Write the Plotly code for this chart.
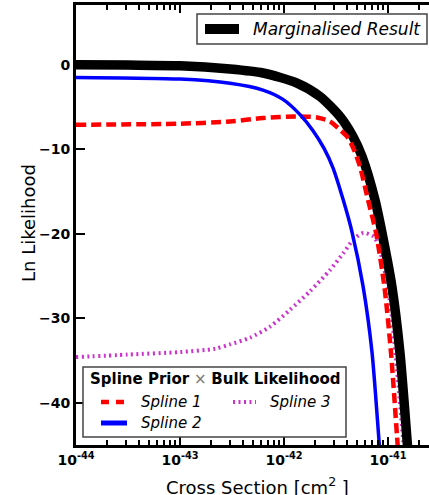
import numpy as np
import plotly.graph_objects as go

# log10 of cross section [cm^2] and ln-likelihood for each curve
marg_logx = [-44.0, -43.5, -43.0, -42.519, -42.202, -41.875, -41.654, -41.462, -41.337, -41.25,
             -41.125, -41.058, -40.962, -40.885, -40.817, -40.788]
marg_lnl = [0.0, -0.04, -0.12, -0.51, -0.98, -2.17, -3.75, -6.12, -8.49, -10.85,
            -16.0, -19.88, -26.27, -34.08, -44.38, -49.1]

s1_logx = [-44.0, -43.0, -42.519, -42.202, -41.875, -41.683, -41.558, -41.462, -41.394, -41.327,
           -41.269, -41.192, -41.115, -41.034, -40.971, -40.913, -40.885]
s1_lnl = [-7.1, -6.98, -6.71, -6.31, -6.12, -6.24, -6.71, -7.69, -8.49, -10.06,
          -12.07, -16.0, -19.9, -26.3, -34.1, -44.0, -49.1]

s2_logx = [-44.0, -43.0, -42.519, -42.202, -42.01, -41.846, -41.721, -41.615, -41.529, -41.433,
           -41.346, -41.24, -41.154, -41.087, -41.058]
s2_lnl = [-1.5, -1.7, -2.2, -3.0, -4.1, -5.9, -7.8, -9.9, -12.2, -15.9,
          -19.8, -26.2, -34.0, -44.4, -49.0]

s3_logx = [-44.0, -43.5, -43.0, -42.663, -42.519, -42.327, -42.135, -41.942, -41.75, -41.558,
           -41.43, -41.334, -41.238, -41.141, -41.093, -41.038, -40.971, -40.904, -40.846]
s3_lnl = [-34.6, -34.3, -34.0, -33.6, -33.1, -32.3, -31.0, -29.0, -26.8, -24.3,
          -22.3, -20.7, -19.9, -20.3, -21.3, -24.0, -29.0, -37.3, -45.6]

x_major = [1e-44, 1e-43, 1e-42, 1e-41]
x_major_text = ["10<sup>-44</sup>", "10<sup>-43</sup>", "10<sup>-42</sup>", "10<sup>-41</sup>"]
y_major = [-40, -30, -20, -10, 0]
y_major_text = ["\u221240", "\u221230", "\u221220", "\u221210", "0"]

W, H = 429, 495
ML, MR, MT, MB = 76, 0, 5, 50
PW, PH = W - ML - MR, H - MT - MB


def px(x):
    return (x - ML) / PW


def py(y):
    return (H - MB - y) / PH


FONT = "DejaVu Sans"
MAGENTA = "#cc33cc"

fig = go.Figure()
curves = [
    (s3_logx, s3_lnl, dict(color=MAGENTA, width=4, dash="2px,3.5px")),
    (marg_logx, marg_lnl, dict(color="black", width=9.5)),
    (s1_logx, s1_lnl, dict(color="#ff0000", width=4.5, dash="10px,5px")),
    (s2_logx, s2_lnl, dict(color="#0000ff", width=3.5)),
]
for lx, ly, style in curves:
    fig.add_trace(go.Scatter(
        x=10 ** np.array(lx), y=ly, mode="lines",
        line=dict(shape="spline", smoothing=0.7, **style),
        showlegend=False, hoverinfo="skip",
    ))

minor_vals = [m * 10.0 ** e for e in range(-45, -40) for m in range(2, 10)]

fig.update_xaxes(
    type="log", range=[-44, -44 + PW / 104.0],
    tickvals=x_major, ticktext=["<b>%s</b>" % t for t in x_major_text],
    ticks="inside", ticklen=8, tickwidth=2, tickcolor="black",
    minor=dict(tickvals=minor_vals, ticks="inside", ticklen=5, tickwidth=1.5,
               tickcolor="black", showgrid=False),
    showline=True, linewidth=3, linecolor="black", mirror="allticks",
    showgrid=False, zeroline=False,
    tickfont=dict(family=FONT, size=14, color="black"),
)
fig.update_yaxes(
    range=[-45, 7.07],
    tickvals=y_major, ticktext=["<b>%s</b>" % t for t in y_major_text],
    ticks="inside", ticklen=9, tickwidth=2, tickcolor="black",
    showline=True, linewidth=3, linecolor="black", mirror=False,
    showgrid=False, zeroline=False,
    tickfont=dict(family=FONT, size=14, color="black"),
)

shapes = []
annotations = []

# upper legend: marginalised result
shapes.append(dict(type="rect", xref="paper", yref="paper",
                   x0=px(197), x1=px(427), y0=py(44), y1=py(14),
                   line=dict(color="#444444", width=1.5), fillcolor="white", layer="above"))
shapes.append(dict(type="line", xref="paper", yref="paper",
                   x0=px(205), x1=px(239), y0=py(29), y1=py(29),
                   line=dict(color="black", width=10), layer="above"))
annotations.append(dict(xref="paper", yref="paper", x=px(251), y=py(29),
                        xanchor="left", yanchor="middle", showarrow=False,
                        text="<i>Marginalised Result</i>",
                        font=dict(family=FONT, size=17, color="black")))

# lower legend: individual splines
shapes.append(dict(type="rect", xref="paper", yref="paper",
                   x0=px(83), x1=px(346), y0=py(437), y1=py(367),
                   line=dict(color="#444444", width=1.5), fillcolor="white", layer="above"))
annotations.append(dict(xref="paper", yref="paper", x=px(88), y=py(379),
                        xanchor="left", yanchor="middle", showarrow=False,
                        text="<b>Spline Prior</b> <span style='color:#777777'>\u00d7</span> <b>Bulk Likelihood</b>",
                        font=dict(family=FONT, size=15, color="black")))
legend_items = [
    ("Spline 1", 101, 127, 402, dict(color="#ff0000", width=4.5, dash="8px,7px")),
    ("Spline 2", 101, 127, 423, dict(color="#0000ff", width=5)),
    ("Spline 3", 233, 256, 402, dict(color=MAGENTA, width=4, dash="2px,3.5px")),
]
for name, x0, x1, yc, st in legend_items:
    shapes.append(dict(type="line", xref="paper", yref="paper",
                       x0=px(x0), x1=px(x1), y0=py(yc), y1=py(yc),
                       line=st, layer="above"))
    annotations.append(dict(xref="paper", yref="paper", x=px(x1 + 12), y=py(yc),
                            xanchor="left", yanchor="middle", showarrow=False,
                            text="<i>%s</i>" % name,
                            font=dict(family=FONT, size=15, color="black")))

# axis titles
annotations.append(dict(xref="paper", yref="paper", x=px(28), y=py(223),
                        xanchor="center", yanchor="middle", showarrow=False,
                        textangle=-90, text="Ln Likelihood",
                        font=dict(family=FONT, size=18, color="black")))
annotations.append(dict(xref="paper", yref="paper", x=px(257), y=py(486),
                        xanchor="center", yanchor="middle", showarrow=False,
                        text="Cross Section [cm<sup>2</sup> ]",
                        font=dict(family=FONT, size=18, color="black")))

fig.update_layout(
    width=W, height=H,
    margin=dict(l=ML, r=MR, t=MT, b=MB),
    paper_bgcolor="white", plot_bgcolor="white",
    shapes=shapes, annotations=annotations,
    showlegend=False,
)

fig.write_html("out.html", config={"displayModeBar": False})
